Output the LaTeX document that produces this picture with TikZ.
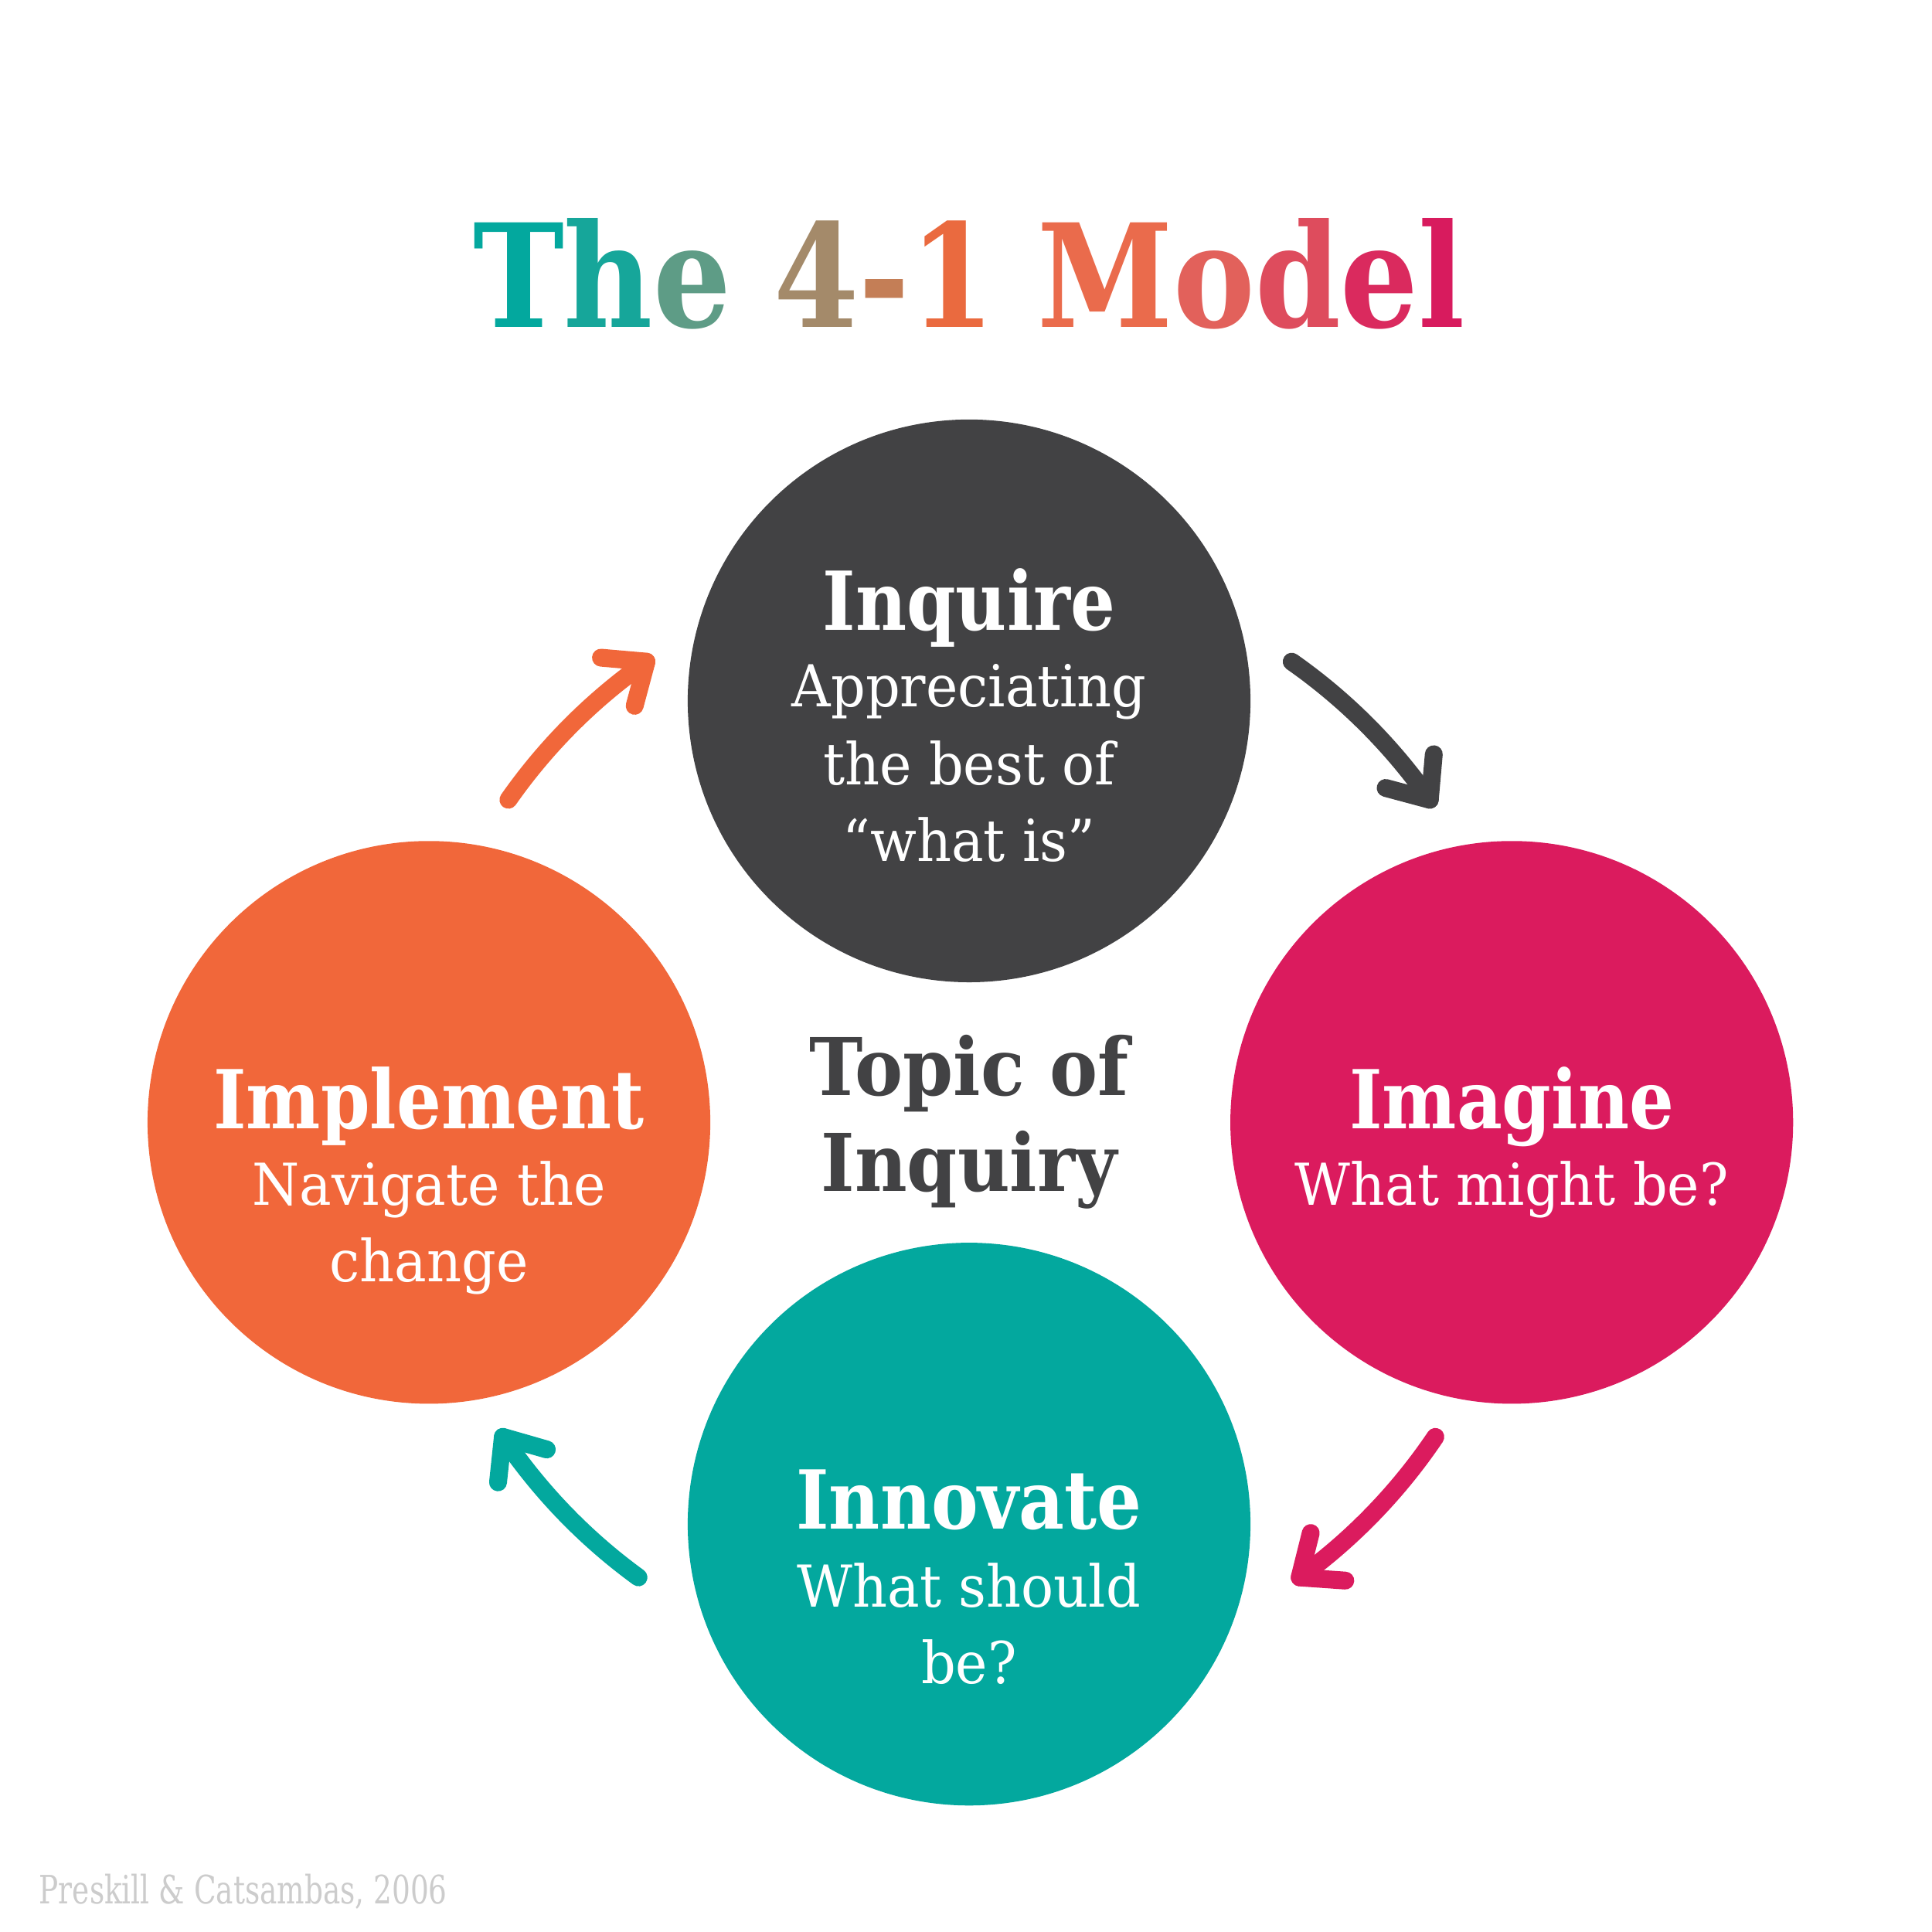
\documentclass[tikz,border=0pt]{standalone}
\usepackage{fontspec}
\setmainfont{DejaVu Serif}
\usepackage{graphicx}
\usetikzlibrary{calc}
\definecolor{darkc}{HTML}{424244}
\definecolor{crimc}{HTML}{DB1B5E}
\definecolor{oranc}{HTML}{F1673A}
\definecolor{tealc}{HTML}{03A89E}
\definecolor{footc}{HTML}{CCCCCC}
\newcommand\lc[2]{{\color[HTML]{#1}#2}}
\newcommand\hsq[2]{\scalebox{#1}[1]{#2}}
\begin{document}
\begin{tikzpicture}[x=0.01cm,y=0.01cm,
  bubble/.style={circle, inner sep=0pt, minimum size=4.55cm},
  head/.style={anchor=base, text=white, font=\fontsize{18.7}{20}\selectfont\bfseries, inner sep=0pt},
  sub/.style={anchor=base, text=white, font=\fontsize{13.3}{15}\selectfont, inner sep=0pt},
  centre/.style={anchor=base, text=darkc, font=\fontsize{18.3}{20}\selectfont\bfseries, inner sep=0pt},
  arr/.style={line width=4.1pt, line cap=round, line join=round}]
\useasboundingbox (0,0) rectangle (1563,-1563);
\fill[white] (0,0) rectangle (1563,-1563);
% title
\node[anchor=base, inner sep=0pt, font=\fontsize{33}{36}\selectfont\bfseries] (title) at (784,-265)
  {\hsq{0.854}{\lc{03A89E}{T}\lc{16A69A}{h}\lc{5E9C86}{e} \lc{A48A6A}{4}\lc{C47E56}{-}\lc{EA6A3F}{1} \lc{EA6B4C}{M}\lc{E2615B}{o}\lc{DE4C5D}{d}\lc{DA2A5E}{e}\lc{D81B5E}{l}}};
% circles
\node[bubble, fill=darkc] (inq) at (784,-567) {};
\node[bubble, fill=crimc] (ima) at (1223,-908) {};
\node[bubble, fill=tealc] (inn) at (784,-1233) {};
\node[bubble, fill=oranc] (imp) at (347,-908) {};
\coordinate (c) at (784,-908);
% texts
\node[head] (inqh) at (784,-510) {\hsq{0.865}{Inquire}};
\node[sub] (inq1) at (784,-572) {\hsq{0.935}{Appreciating}};
\node[sub] (inq2) at (784,-635) {\hsq{0.935}{the best of}};
\node[sub] (inq3) at (784,-697) {\hsq{0.935}{“what is”}};
\node[head] (imah) at (1223,-913) {\hsq{0.865}{Imagine}};
\node[sub] (ima1) at (1223,-975) {\hsq{0.935}{What might be?}};
\node[head] (innh) at (784,-1237) {\hsq{0.865}{Innovate}};
\node[sub] (inn1) at (784,-1300) {\hsq{0.935}{What should}};
\node[sub] (inn2) at (784,-1362) {\hsq{0.935}{be?}};
\node[head] (imph) at (347,-913) {\hsq{0.865}{Implement}};
\node[sub] (imp1) at (347,-975) {\hsq{0.935}{Navigate the}};
\node[sub] (imp2) at (347,-1037) {\hsq{0.935}{change}};
\node[centre] (top1) at (784,-886) {\hsq{0.905}{Topic of}};
\node[centre] (top2) at (784,-964) {\hsq{0.905}{Inquiry}};
% arrows
\foreach \s/\e/\col in {55/35/darkc, -34/-54/crimc, 234/214/tealc, 145/125/oranc}{
  \draw[arr, \col] ($(c)+(\s:455)$) arc[start angle=\s, end angle=\e, radius=455];
  \draw[arr, \col] ($(c)+(\e:455)+(\e+50:37)$) -- ($(c)+(\e:455)$) -- ($(c)+(\e:455)+(\e+130:37)$);
}
% footer
\node[anchor=base west, inner sep=0pt, text=footc, font=\fontsize{9}{10}\selectfont] (foot) at (31,-1540) {\hsq{0.74}{Preskill \& Catsambas, 2006}};
\end{tikzpicture}
\end{document}
